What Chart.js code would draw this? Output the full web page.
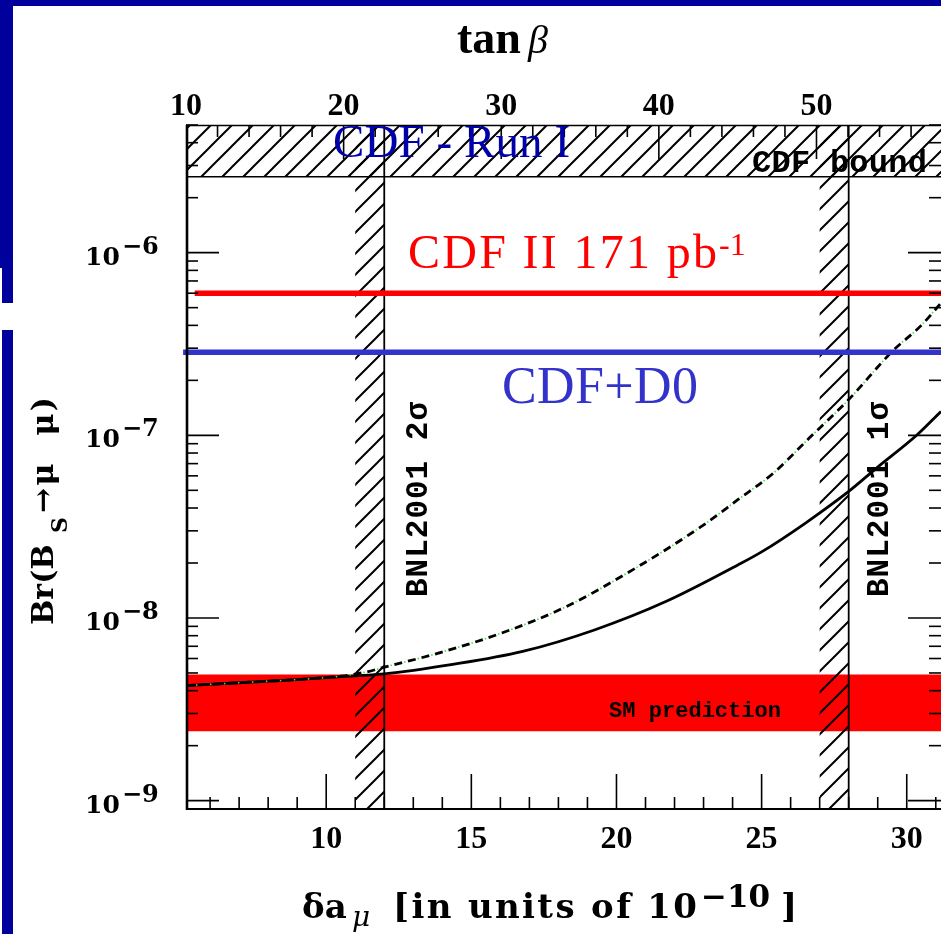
<!DOCTYPE html>
<html><head><meta charset="utf-8">
<script src="https://cdn.jsdelivr.net/npm/chart.js@4.4.0/dist/chart.umd.min.js"></script>
<style>
html,body{margin:0;padding:0;background:#fff;overflow:hidden;}
#wrap{position:relative;width:941px;height:934px;overflow:hidden;background:#fff;}
canvas{position:absolute;left:0;top:0;}
.bar{position:absolute;background:#00009c;}
</style></head><body>
<div id="wrap">
<canvas id="c" width="941" height="934"></canvas>
<div class="bar" style="left:0;top:0;width:941px;height:6px"></div>
<div class="bar" style="left:0;top:0;width:13px;height:268px"></div>
<div class="bar" style="left:2px;top:268px;width:11px;height:35px"></div>
<div class="bar" style="left:2px;top:330px;width:11px;height:604px"></div>
</div>
<script>
// ---------------- data ----------------
const X_MIN = 5.17, X_MAX = 31.18;          // delta a_mu range shown
const TANB_MIN = 10, TANB_MAX = 57.9;       // tan(beta) range (top axis)
const Y_MIN = 9e-10, Y_MAX = 5e-6;          // Br range

const deltaA_solid = [5.17, 7, 9, 10, 12, 14.3, 16.77, 19.24, 21.7, 24.18, 25, 26.5, 28, 29, 30.34, 31.18];
const br_solid     = [4.26e-9, 4.42e-9, 4.6e-9, 4.72e-9, 4.94e-9, 5.55e-9, 6.56e-9, 8.6e-9, 1.23e-8, 1.95e-8, 2.3e-8, 3.3e-8, 4.93e-8, 6.7e-8, 1.0e-7, 1.35e-7];

const deltaA_dashed = [5.17, 7, 9, 10.5, 11.4, 12, 13.68, 15.98, 18.28, 20.57, 22.9, 24.18, 25.41, 26.64, 28, 29.5, 30.5, 31.18];
const br_dashed     = [4.26e-9, 4.42e-9, 4.6e-9, 4.8e-9, 5.07e-9, 5.38e-9, 6.3e-9, 8.2e-9, 1.156e-8, 1.84e-8, 3.15e-8, 4.44e-8, 6.22e-8, 9.66e-8, 1.57e-7, 2.88e-7, 4.0e-7, 5.3e-7];

const cdfRun1Bound = 2.6e-6;        // CDF Run I (hatched top band)
const cdf2Limit    = 6.0e-7;        // CDF II 171 pb-1
const cdf2LimitX   = [5.47, X_MAX];
const cdfD0Limit   = 2.85e-7;       // CDF+D0
const cdfD0LimitX  = [5.07, X_MAX];
const smBand       = [2.4e-9, 4.9e-9]; // SM prediction band
const bnl2sigma    = [11, 12];      // hatched band, edge at 12
const bnl1sigma    = [27, 28];      // hatched band, edge at 28

const xTickLabels    = [10, 15, 20, 25, 30];
const tanbTickLabels = [10, 20, 30, 40, 50];
const yTickExps      = [-9, -8, -7, -6];

// ---------------- helpers ----------------
function makeHatch(step, lw){
  const c = document.createElement('canvas'); c.width = step; c.height = step;
  const g = c.getContext('2d');
  g.strokeStyle = '#000'; g.lineWidth = lw;
  g.beginPath();
  for (let k = -1; k <= 1; k++){ g.moveTo(k*step - 2, step + 2); g.lineTo(k*step + step + 2, -2); }
  g.stroke();
  return c;
}
const hatchCanvas = makeHatch(21, 2.0);
const ctx0 = document.getElementById('c').getContext('2d');
const hatchPattern = ctx0.createPattern(hatchCanvas, 'repeat');

function pts(xs, ys){ return xs.map((x,i)=>({x, y: ys[i]})); }
function seg(ctx,x1,y1,x2,y2){ ctx.beginPath(); ctx.moveTo(x1,y1); ctx.lineTo(x2,y2); ctx.stroke(); }
function fitText(ctx, text, x, y, font, target){
  ctx.font = font; ctx.letterSpacing = '0px';
  const w = ctx.measureText(text).width;
  if (target){ const ls = (target - w) / Math.max(1, text.length - 1); ctx.letterSpacing = ls.toFixed(2) + 'px'; }
  ctx.fillText(text, x, y);
  ctx.letterSpacing = '0px';
}

const deco = {
  id: 'deco',
  beforeDatasetsDraw(chart){
    const {ctx, chartArea: a, scales: {x, y}} = chart;
    ctx.save();
    ctx.beginPath(); ctx.rect(a.left, a.top, a.right - a.left, a.bottom - a.top); ctx.clip();
    ctx.fillStyle = hatchPattern;
    for (const band of [bnl2sigma, bnl1sigma]){
      const x1 = x.getPixelForValue(band[0]), x2 = x.getPixelForValue(band[1]);
      ctx.fillRect(x1, a.top, x2 - x1, a.bottom - a.top);
    }
    ctx.strokeStyle = '#000'; ctx.lineWidth = 1.8;
    for (const band of [bnl2sigma, bnl1sigma]){
      const px = x.getPixelForValue(band[1]);
      seg(ctx, px, a.top, px, a.bottom);
    }
    ctx.restore();
  },
  afterDatasetsDraw(chart){
    const {ctx, chartArea: a, scales: {x, xTop, y}} = chart;
    ctx.save();
    ctx.strokeStyle = '#000'; ctx.fillStyle = '#000';
    // frame
    ctx.lineWidth = 2.6; seg(ctx, a.left + 1, a.top, a.left + 1, a.bottom + 1);
    ctx.lineWidth = 2.2; seg(ctx, a.left, a.bottom, a.right, a.bottom);
    ctx.lineWidth = 1.4; seg(ctx, a.left, a.top + 0.5, a.right, a.top + 0.5);
    // ticks
    ctx.lineWidth = 1.6;
    for (let v = Math.ceil(X_MIN); v <= X_MAX; v++){
      const px = x.getPixelForValue(v); const len = v % 5 === 0 ? 35 : 12;
      seg(ctx, px, a.bottom, px, a.bottom - len);
    }
    for (let t = TANB_MIN + 2; t <= TANB_MAX; t += 2){
      const px = xTop.getPixelForValue(t); const len = t % 10 === 0 ? 34 : 12;
      seg(ctx, px, a.top, px, a.top + len);
    }
    for (let e = -10; e <= -6; e++){
      for (let k = 1; k <= 9; k++){
        const v = k * Math.pow(10, e);
        if (v < Y_MIN * 1.001 || v > Y_MAX * 1.001) continue;
        const py = y.getPixelForValue(v); const len = k === 1 ? 33 : 12;
        seg(ctx, a.left, py, a.left + len, py);
        seg(ctx, a.right, py, a.right - len, py);
      }
    }
    // tick labels
    ctx.textAlign = 'center'; ctx.textBaseline = 'alphabetic';
    ctx.font = 'bold 32px "Liberation Serif"';
    for (const v of xTickLabels) ctx.fillText(String(v), x.getPixelForValue(v), a.bottom + 39);
    for (const t of tanbTickLabels) ctx.fillText(String(t), xTop.getPixelForValue(t), a.top - 10);
    ctx.textAlign = 'left';
    for (const e of yTickExps){
      const py = y.getPixelForValue(Math.pow(10, e));
      ctx.font = 'bold 25px "DejaVu Serif"';
      ctx.fillText('10', a.left - 101, py + 12);
      ctx.font = 'bold 24px "DejaVu Serif"';
      ctx.fillText('\u2212' + Math.abs(e), a.left - 64, py + 1);
    }
    // axis titles
    ctx.font = 'bold 46px "Liberation Serif"'; ctx.fillText('tan', 457, 53);
    ctx.font = 'italic 40px "Liberation Serif"'; ctx.fillText('\u03b2', 528, 53);

    ctx.font = 'bold 34px "DejaVu Serif"'; ctx.fillText('\u03b4a', 302, 918);
    ctx.font = 'italic 28px "DejaVu Serif"'; ctx.fillText('\u03bc', 352, 926);
    fitText(ctx, '[in units of 10', 393, 918, 'bold 34px "DejaVu Serif"', 304);
    ctx.font = 'bold 31px "DejaVu Serif"'; ctx.fillText('\u221210', 701, 907);
    ctx.font = 'bold 34px "DejaVu Serif"'; ctx.fillText(']', 781, 918);

    // y title (rotated)
    ctx.save();
    ctx.translate(53, 625); ctx.rotate(-Math.PI/2);
    ctx.font = 'bold 30px "DejaVu Serif"'; ctx.fillText('Br(B', 0, 0);
    ctx.font = 'bold 22px "DejaVu Serif"'; ctx.fillText('S', 92, 14);
    fitText(ctx, '\u2192\u03bc  \u03bc)', 112, 0, 'bold 30px "DejaVu Serif"', 116);
    ctx.restore();

    // in-plot labels
    ctx.fillStyle = '#000';
    fitText(ctx, 'CDF bound', 752, 172, 'bold 32px "Liberation Mono"', 175);
    fitText(ctx, 'SM prediction', 609, 717, 'bold 22px "Liberation Mono"', 172);
    for (const [px, txt] of [[427, 'BNL2001 2\u03c3'], [888, 'BNL2001 1\u03c3']]){
      ctx.save(); ctx.translate(px, 597); ctx.rotate(-Math.PI/2);
      fitText(ctx, txt, 0, 0, 'bold 31px "Liberation Mono"', 195);
      ctx.restore();
    }
    ctx.fillStyle = '#0000aa';
    fitText(ctx, 'CDF - Run I', 333, 157, '47px "Liberation Serif"', 237);
    ctx.fillStyle = '#ff0000';
    fitText(ctx, 'CDF II 171 pb', 408, 268, '48px "Liberation Serif"', 309);
    ctx.font = '32px "Liberation Serif"'; ctx.fillText('-1', 719, 255);
    ctx.fillStyle = '#3333cc';
    fitText(ctx, 'CDF+D0', 502, 403, '52px "Liberation Serif"', 196);
    ctx.restore();
  }
};

new Chart(document.getElementById('c'), {
  type: 'line',
  data: {
    datasets: [
      { label: 'CDF II 171 pb-1', data: pts(cdf2LimitX, [cdf2Limit, cdf2Limit]), borderColor: '#ff0000', borderWidth: 5.5, pointRadius: 0, fill: false, clip: {left: 10, right: 0, top: 0, bottom: 0} },
      { label: 'CDF+D0', data: pts(cdfD0LimitX, [cdfD0Limit, cdfD0Limit]), borderColor: '#3333cc', borderWidth: 5.5, pointRadius: 0, fill: false, clip: {left: 10, right: 0, top: 0, bottom: 0} },
      { label: 'dashed', data: pts(deltaA_dashed, br_dashed), borderColor: '#000', borderWidth: 2.8, borderDash: [8, 6], pointRadius: 0, fill: false, cubicInterpolationMode: 'monotone' },
      { label: 'dotted', data: pts(deltaA_dashed, br_dashed), borderColor: '#33ee33', borderWidth: 1.6, borderDash: [1.5, 12.5], borderDashOffset: -10, pointRadius: 0, fill: false, cubicInterpolationMode: 'monotone' },
      { label: 'solid', data: pts(deltaA_solid, br_solid), borderColor: '#000', borderWidth: 2.8, pointRadius: 0, fill: false, cubicInterpolationMode: 'monotone' },
      { label: 'SM', data: pts([X_MIN, X_MAX], [smBand[1], smBand[1]]), borderColor: 'rgba(0,0,0,0)', borderWidth: 1, pointRadius: 0, backgroundColor: '#ff0000', fill: {value: smBand[0]} },
      { label: 'CDF Run I', data: pts([X_MIN, X_MAX], [cdfRun1Bound, cdfRun1Bound]), borderColor: '#000', borderWidth: 1.5, pointRadius: 0, backgroundColor: hatchPattern, fill: 'end' }
    ]
  },
  options: {
    responsive: false, animation: false, devicePixelRatio: 1,
    layout: { padding: 0, autoPadding: false },
    plugins: { legend: {display: false}, tooltip: {enabled: false}, title: {display: false}, filler: {drawTime: 'beforeDatasetsDraw'} },
    scales: {
      x: { type: 'linear', position: 'bottom', min: X_MIN, max: X_MAX,
           ticks: {display: false}, grid: {display: false, drawTicks: false}, border: {display: false},
           afterFit(s){ s.height = 125; } },
      xTop: { type: 'linear', position: 'top', min: TANB_MIN, max: TANB_MAX,
           ticks: {display: false}, grid: {display: false, drawTicks: false}, border: {display: false},
           afterFit(s){ s.height = 125; } },
      y: { type: 'logarithmic', position: 'left', min: Y_MIN, max: Y_MAX,
           ticks: {display: false}, grid: {display: false, drawTicks: false}, border: {display: false},
           afterFit(s){ s.width = 186; } }
    }
  },
  plugins: [deco]
});
</script>
</body></html>
